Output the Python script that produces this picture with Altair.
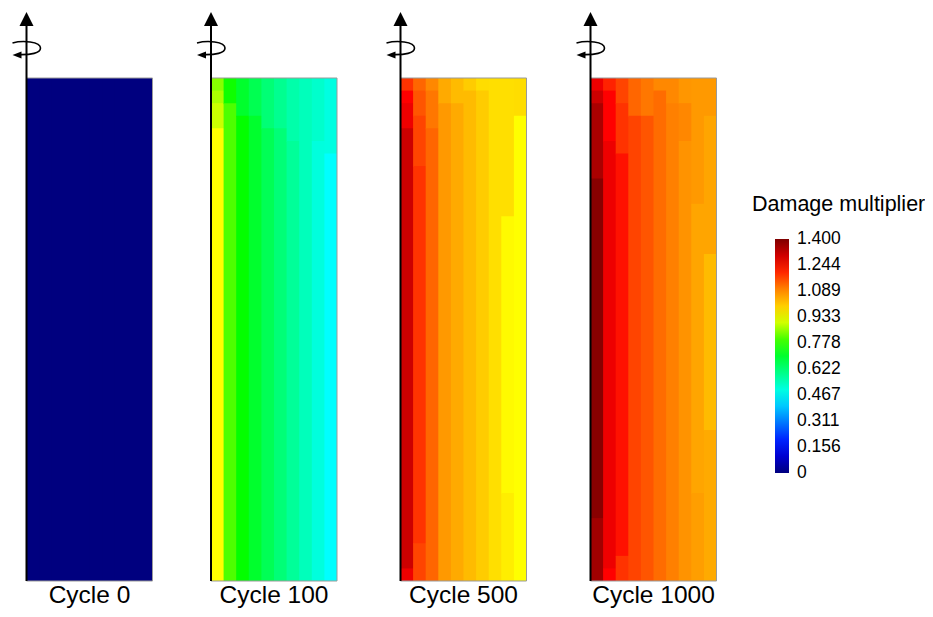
import altair as alt
import pandas as pd

# ---------------- data ----------------
cycles = ["Cycle 0", "Cycle 100", "Cycle 500", "Cycle 1000"]

# Each panel: 10 element columns (left = axis side), each column listed top -> bottom
# as runs of [number_of_rows, damage_multiplier]
cycle0_runs = [
    [[40, 0.0]], [[40, 0.0]], [[40, 0.0]], [[40, 0.0]], [[40, 0.0]],
    [[40, 0.0]], [[40, 0.0]], [[40, 0.0]], [[40, 0.0]], [[40, 0.0]],
]
cycle100_runs = [
    [[1, 0.847], [1, 0.872], [2, 0.896], [36, 0.933]],
    [[2, 0.760], [38, 0.805]],
    [[3, 0.700], [37, 0.752]],
    [[3, 0.660], [37, 0.700]],
    [[4, 0.620], [36, 0.656]],
    [[4, 0.590], [36, 0.618]],
    [[5, 0.561], [35, 0.580]],
    [[40, 0.543]],
    [[5, 0.524], [35, 0.505]],
    [[6, 0.500], [34, 0.467]],
]
cycle500_runs = [
    [[1, 1.188], [1, 1.244], [2, 1.265], [35, 1.306], [1, 1.265]],
    [[1, 1.131], [2, 1.150], [4, 1.169], [30, 1.188], [3, 1.169]],
    [[1, 1.093], [3, 1.112], [36, 1.131]],
    [[2, 1.048], [38, 1.071]],
    [[2, 1.025], [38, 1.048]],
    [[1, 1.002], [39, 1.025]],
    [[1, 0.979], [39, 1.002]],
    [[40, 0.977]],
    [[11, 0.977], [22, 0.940], [7, 0.956]],
    [[3, 0.979], [37, 0.933]],
]
cycle1000_runs = [
    [[1, 1.265], [1, 1.306], [6, 1.348], [27, 1.389], [5, 1.360]],
    [[1, 1.206], [4, 1.244], [34, 1.265], [1, 1.244]],
    [[2, 1.169], [4, 1.188], [32, 1.225], [2, 1.188]],
    [[3, 1.131], [37, 1.169]],
    [[3, 1.112], [37, 1.150]],
    [[1, 1.093], [39, 1.124]],
    [[2, 1.093], [38, 1.102]],
    [[2, 1.075], [3, 1.095], [35, 1.080]],
    [[10, 1.071], [23, 1.055], [7, 1.064]],
    [[3, 1.071], [11, 1.055], [14, 1.025], [12, 1.048]],
]
all_runs = [cycle0_runs, cycle100_runs, cycle500_runs, cycle1000_runs]

legend_ticks = [0, 0.156, 0.311, 0.467, 0.622, 0.778, 0.933, 1.089, 1.244, 1.400]
# colour stops; the two outermost stops sit a hair beyond 0 and 1.4 so that the
# end labels of the colour bar stay centred on their ticks
color_stops = [-0.0005, 0, 0.156, 0.467, 0.75, 0.933, 1.089, 1.244, 1.4, 1.4005]
color_range = ["#00007f", "#00007f", "#0000ff", "#00ffff", "#00ff00", "#ffff00",
               "#ff8c00", "#ff0000", "#7f0000", "#7f0000"]
legend_title = "Damage multiplier"

# ---------------- layout (pixels of the page) ----------------
N_ROWS = 40
N_COLS = 10
PX_COL = 12.6
PX_ROW = 12.575
PANEL_LEFT_PX = [26.5, 211.0, 400.5, 590.5]
PANEL_BOTTOM_PX = 581.0
W, H = 917, 601
SEAM = 0.08  # small overlap between neighbouring cells to hide antialiasing seams
offsets = [(p - PANEL_LEFT_PX[0]) / PX_COL for p in PANEL_LEFT_PX]
x_dom = [(8 - PANEL_LEFT_PX[0]) / PX_COL, (8 + W - PANEL_LEFT_PX[0]) / PX_COL]
y_dom = [(PANEL_BOTTOM_PX - (8 + H)) / PX_ROW, (PANEL_BOTTOM_PX - 8) / PX_ROW]


def col_of(px):
    return (px - PANEL_LEFT_PX[0]) / PX_COL


def row_of(py):
    return (PANEL_BOTTOM_PX - py) / PX_ROW


xs = alt.Scale(domain=x_dom, nice=False, zero=False)
ys = alt.Scale(domain=y_dom, nice=False, zero=False)
cscale = alt.Scale(domain=color_stops, range=color_range, interpolate="rgb")

# ---------------- tables ----------------
cells = []
for p, runs in enumerate(all_runs):
    for c, col in enumerate(runs):
        top = N_ROWS
        for n, v in col:
            bottom = top - n
            cells.append(dict(
                panel=cycles[p],
                x=offsets[p] + c,
                x2=offsets[p] + c + 1 + (SEAM if c < N_COLS - 1 else 0),
                y=bottom - SEAM if bottom > 0 else 0,
                y2=top,
                value=v))
            top = bottom
cells_df = pd.DataFrame(cells)

panels_df = pd.DataFrame(dict(
    panel=cycles,
    x0=offsets,
    x1=[o + N_COLS for o in offsets],
    xc=[o + N_COLS / 2 for o in offsets],
    y0=[0] * 4,
    y1=[N_ROWS] * 4,
    ytop=[row_of(17)] * 4,
    yhead=[row_of(19)] * 4,
    ycurl=[row_of(49)] * 4,
    ylabel=[row_of(602.5)] * 4,
))
title_df = pd.DataFrame(dict(text=[legend_title], x=[col_of(752)], y=[row_of(211)]))

X = lambda f: alt.X(f, type="quantitative", scale=xs, axis=None)
Y = lambda f: alt.Y(f, type="quantitative", scale=ys, axis=None)

label_expr = "datum.value == 0 ? '0' : format(datum.value, '.3f')"

heat = alt.Chart(cells_df).mark_rect().encode(
    x=X("x"), x2="x2", y=Y("y"), y2="y2",
    color=alt.Color("value:Q", scale=cscale, legend=alt.Legend(
        type="gradient", title=None, orient="none", legendX=767, legendY=239 - 8,
        direction="vertical", gradientLength=234, gradientThickness=14,
        gradientStrokeWidth=0, values=legend_ticks, labelExpr=label_expr,
        labelFont="Liberation Sans", labelFontSize=17.5, labelColor="black",
        labelOffset=8, labelOverlap=False, padding=0)),
)

border = alt.Chart(panels_df).mark_rect(fillOpacity=0, stroke="#9a9a9a", strokeWidth=1).encode(
    x=X("x0"), x2="x1", y=Y("y0"), y2="y1")

axis_line = alt.Chart(panels_df).mark_rule(color="black", strokeWidth=2).encode(
    x=X("x0"), y=Y("y0"), y2="ytop")

head = alt.Chart(panels_df).mark_point(
    shape="M 0 -1 L 1 1 L -1 1 Z", filled=True, size=196, color="black", opacity=1
).encode(x=X("x0"), y=Y("yhead"))

curl = alt.Chart(panels_df).mark_point(
    shape="M -1 -0.43 C -0.3 -0.62, 1 -0.55, 1 -0.07 C 1 0.3, 0.3 0.42, -0.55 0.4",
    filled=False, size=784, color="black", strokeWidth=1.6, opacity=1
).encode(x=X("x0"), y=Y("ycurl"))

curl_head = alt.Chart(panels_df).mark_point(
    shape="M -1 0 L 1 -0.8 L 1 0.8 Z", filled=True, size=81, color="black", opacity=1,
    xOffset=-9.5, yOffset=6
).encode(x=X("x0"), y=Y("ycurl"))

labels = alt.Chart(panels_df).mark_text(
    font="Liberation Sans", fontSize=24.5, color="black", align="center", baseline="alphabetic"
).encode(x=X("xc"), y=Y("ylabel"), text="panel:N")

title = alt.Chart(title_df).mark_text(
    font="Liberation Sans", fontSize=21.5, color="black", align="left", baseline="alphabetic"
).encode(x=X("x"), y=Y("y"), text="text:N")

chart = alt.layer(heat, border, axis_line, head, curl, curl_head, labels, title).properties(
    width=W, height=H, padding=0, autosize=alt.AutoSizeParams(type="none"),
    background="white",
).configure_view(strokeWidth=0)

chart.save("out.html", embed_options={"renderer": "svg", "actions": False})
